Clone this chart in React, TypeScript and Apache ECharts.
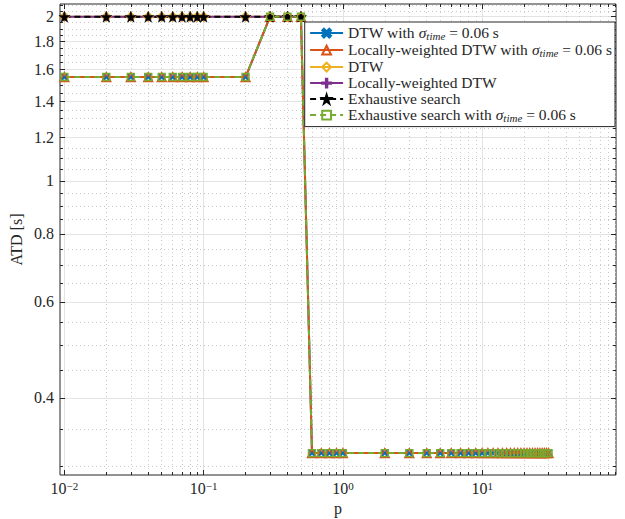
import React, { useEffect, useRef } from "react";
import * as echarts from "echarts";

// ---- data -------------------------------------------------------------
const P_ALL = [
  0.01, 0.02, 0.03, 0.04, 0.05, 0.06, 0.07, 0.08, 0.09, 0.1,
  0.2, 0.3, 0.4, 0.5, 0.6, 0.7, 0.8, 0.9, 1,
  2, 3, 4, 5, 6, 7, 8, 9, 10,
  11, 12, 13, 14, 15, 16, 17, 18, 19, 20,
  21, 22, 23, 24, 25, 26, 27, 28, 29, 30,
];
const P_SHORT = [0.01, 0.02, 0.03, 0.04, 0.05, 0.06, 0.07, 0.08, 0.09, 0.1, 0.2, 0.3, 0.4, 0.5];

const DTW_SIGMA = [
  1.55, 1.55, 1.55, 1.55, 1.55, 1.55, 1.55, 1.55, 1.55, 1.55,
  1.55, 2.0, 2.0, 2.0, 0.317, 0.317, 0.317, 0.317, 0.317,
  0.317, 0.317, 0.317, 0.317, 0.317, 0.317, 0.317, 0.317, 0.317,
  0.317, 0.317, 0.317, 0.317, 0.317, 0.317, 0.317, 0.317, 0.317, 0.317,
  0.317, 0.317, 0.317, 0.317, 0.317, 0.317, 0.317, 0.317, 0.317, 0.317,
];
const LW_DTW_SIGMA = [
  1.55, 1.55, 1.55, 1.55, 1.55, 1.55, 1.55, 1.55, 1.55, 1.55,
  1.55, 2.0, 2.0, 2.0, 0.317, 0.317, 0.317, 0.317, 0.317,
  0.317, 0.317, 0.317, 0.317, 0.317, 0.317, 0.317, 0.317, 0.317,
  0.317, 0.317, 0.317, 0.317, 0.317, 0.317, 0.317, 0.317, 0.317, 0.317,
  0.317, 0.317, 0.317, 0.317, 0.317, 0.317, 0.317, 0.317, 0.317, 0.317,
];
const ES_SIGMA = [
  1.55, 1.55, 1.55, 1.55, 1.55, 1.55, 1.55, 1.55, 1.55, 1.55,
  1.55, 2.0, 2.0, 2.0, 0.317, 0.317, 0.317, 0.317, 0.317,
  0.317, 0.317, 0.317, 0.317, 0.317, 0.317, 0.317, 0.317, 0.317,
  0.317, 0.317, 0.317, 0.317, 0.317, 0.317, 0.317, 0.317, 0.317, 0.317,
  0.317, 0.317, 0.317, 0.317, 0.317, 0.317, 0.317, 0.317, 0.317, 0.317,
];
const DTW = [2.0, 2.0, 2.0, 2.0, 2.0, 2.0, 2.0, 2.0, 2.0, 2.0, 2.0, 2.0, 2.0, 2.0];
const LW_DTW = [2.0, 2.0, 2.0, 2.0, 2.0, 2.0, 2.0, 2.0, 2.0, 2.0, 2.0, 2.0, 2.0, 2.0];
const ES = [2.0, 2.0, 2.0, 2.0, 2.0, 2.0, 2.0, 2.0, 2.0, 2.0, 2.0, 2.0, 2.0, 2.0];

const SERIES_NAMES = [
  "DTW with σtime = 0.06 s",
  "Locally-weighted DTW with σtime = 0.06 s",
  "DTW",
  "Locally-weighted DTW",
  "Exhaustive search",
  "Exhaustive search with σtime = 0.06 s",
];

// axis ranges and ticks
const X_MIN = 0.0093;
const X_MAX = 91.5;
const Y_MIN = 0.289;
const Y_MAX = 2.11;
const X_MAJOR = [0.01, 0.1, 1, 10];
const X_MINOR = [
  0.02, 0.03, 0.04, 0.05, 0.06, 0.07, 0.08, 0.09,
  0.2, 0.3, 0.4, 0.5, 0.6, 0.7, 0.8, 0.9,
  2, 3, 4, 5, 6, 7, 8, 9,
  20, 30, 40, 50, 60, 70, 80, 90,
];
const Y_MAJOR = [0.4, 0.6, 0.8, 1, 1.2, 1.4, 1.6, 1.8, 2];
const Y_MINOR = [
  0.3, 0.35, 0.45, 0.5, 0.55, 0.65, 0.7, 0.75, 0.85, 0.9, 0.95,
  1.05, 1.1, 1.15, 1.25, 1.3, 1.35, 1.45, 1.5, 1.55, 1.65, 1.7, 1.75,
  1.85, 1.9, 1.95, 2.05, 2.1,
];

// ---- styling ------------------------------------------------------------
const FONT = "'Liberation Serif', 'Times New Roman', serif";
const AX = "#262626";
const C_BLUE = "#0072BD";
const C_ORANGE = "#D95319";
const C_YELLOW = "#EDB120";
const C_PURPLE = "#7E2F8E";
const C_BLACK = "#000000";
const C_GREEN = "#77AC30";

const SYM_X = "path://M2,0L5,3L8,0L10,2L7,5L10,8L8,10L5,7L2,10L0,8L3,5L0,2Z";
const SYM_PLUS = "path://M4.2,0H5.8V4.2H10V5.8H5.8V10H4.2V5.8H0V4.2H4.2Z";
const SYM_STAR = "path://M50,0L61,35L98,35L68,57L79,91L50,70L21,91L32,57L2,35L39,35Z";

const lg = (a: number[]) => a.map((v) => Math.log10(v));

function zip(xs: number[], ys: number[]) {
  return xs.map((x, i) => [x, ys[i]]);
}

function overlayAxis(
  dir: "x" | "y",
  position: string,
  values: number[],
  tickLen: number,
  split: "solid" | "dotted" | null,
  labels: boolean
) {
  const lv = lg(values);
  const min = dir === "x" ? Math.log10(X_MIN) : Math.log10(Y_MIN);
  const max = dir === "x" ? Math.log10(X_MAX) : Math.log10(Y_MAX);
  return {
    type: "value",
    position,
    min,
    max,
    offset: 0,
    axisLine: { show: false, onZero: false },
    axisTick: {
      show: true,
      inside: true,
      length: tickLen,
      customValues: lv,
      lineStyle: { color: AX, width: 1 },
    },
    axisLabel: labels
      ? {
          show: true,
          customValues: lv,
          margin: dir === "x" ? 5 : 6,
          fontFamily: FONT,
          color: AX,
          fontSize: 16,
          formatter:
            dir === "x"
              ? (v: number) => {
                  const n = Math.round(v);
                  return `{b|10}{u|${n < 0 ? "\u2212" + Math.abs(n) : n}}`;
                }
              : (v: number) => String(Math.round(Math.pow(10, v) * 10) / 10),
          rich:
            dir === "x"
              ? {
                  b: { fontFamily: FONT, fontSize: 16, color: AX, lineHeight: 16, verticalAlign: "bottom" },
                  u: { fontFamily: FONT, fontSize: 11, color: AX, lineHeight: 9, verticalAlign: "top" },
                }
              : undefined,
        }
      : { show: false },
    splitLine: split
      ? {
          show: true,
          lineStyle:
            split === "solid"
              ? { color: "#e3e3e3", width: 1, type: "solid" }
              : { color: "#c9c9c9", width: 1, type: [1, 3] },
        }
      : { show: false },
  };
}

function legendFormatter(name: string) {
  if (name.indexOf("σtime") >= 0) {
    const [a, b] = name.split("σtime");
    return `{t|${a}}{i|σ}{s|time}{t|${b}}`;
  }
  return `{t|${name}}`;
}

export default function App() {
  const ref = useRef<HTMLDivElement>(null);

  useEffect(() => {
    if (!ref.current) return;
    const chart = echarts.init(ref.current, null, { renderer: "svg" });

    const mk = (
      name: string,
      xs: number[],
      ys: number[],
      color: string,
      symbol: string,
      size: number,
      filled: boolean,
      dashed: boolean
    ) => ({
      name,
      type: "line",
      xAxisIndex: 0,
      yAxisIndex: 0,
      data: zip(xs, ys),
      symbol,
      symbolSize: size,
      showSymbol: true,
      showAllSymbol: true,
      lineStyle: { color, width: 2, type: dashed ? [6, 4] : "solid" },
      itemStyle: {
        color: filled ? color : "none",
        borderColor: color,
        borderWidth: filled ? 0.5 : 1.4,
      },
      emphasis: { disabled: true },
    });

    const option: any = {
      animation: false,
      backgroundColor: "#ffffff",
      grid: {
        left: 60,
        right: 9,
        top: 4,
        bottom: 44,
        show: true,
        borderColor: AX,
        borderWidth: 1,
        backgroundColor: "#ffffff",
        outerBoundsMode: "none",
      },
      legend: {
        show: true,
        orient: "vertical",
        right: 10,
        top: 22,
        padding: [2.6, 3, 3, 4.4],
        itemWidth: 33,
        itemHeight: 11,
        itemGap: 0,
        selectedMode: false,
        backgroundColor: "#ffffff",
        borderColor: AX,
        borderWidth: 1,
        formatter: legendFormatter,
        textStyle: {
          fontFamily: FONT,
          fontSize: 15.5,
          color: AX,
          rich: {
            t: { fontFamily: FONT, fontSize: 15.5, color: AX, lineHeight: 17, verticalAlign: "top" },
            i: { fontFamily: FONT, fontSize: 15.5, color: AX, lineHeight: 17, verticalAlign: "top", fontStyle: "italic" },
            s: { fontFamily: FONT, fontSize: 11, color: AX, lineHeight: 9, verticalAlign: "bottom", fontStyle: "italic" },
          },
        },
        data: SERIES_NAMES,
      },
      xAxis: [
        {
          type: "log",
          logBase: 10,
          min: X_MIN,
          max: X_MAX,
          position: "bottom",
          axisLine: { show: false, onZero: false },
          axisTick: { show: false },
          axisLabel: { show: false },
          splitLine: { show: false },
          minorTick: { show: false },
          name: "p",
          nameLocation: "middle",
          nameGap: 25,
          nameMoveOverlap: false,
          nameTextStyle: { fontFamily: FONT, fontSize: 16, color: AX, lineHeight: 16 },
        },
        overlayAxis("x", "bottom", X_MAJOR, 5, "solid", true),
        overlayAxis("x", "bottom", X_MINOR, 3, "dotted", false),
        overlayAxis("x", "top", X_MAJOR, 5, null, false),
        overlayAxis("x", "top", X_MINOR, 3, null, false),
      ],
      yAxis: [
        {
          type: "log",
          logBase: 10,
          min: Y_MIN,
          max: Y_MAX,
          position: "left",
          axisLine: { show: false, onZero: false },
          axisTick: { show: false },
          axisLabel: { show: false },
          splitLine: { show: false },
          minorTick: { show: false },
          name: "ATD [s]",
          nameLocation: "middle",
          nameGap: 36,
          nameMoveOverlap: false,
          nameTextStyle: { fontFamily: FONT, fontSize: 16, color: AX },
        },
        overlayAxis("y", "left", Y_MAJOR, 5, "solid", true),
        overlayAxis("y", "left", Y_MINOR, 3, "dotted", false),
        overlayAxis("y", "right", Y_MAJOR, 5, null, false),
        overlayAxis("y", "right", Y_MINOR, 3, null, false),
      ],
      series: [
        mk(SERIES_NAMES[0], P_ALL, DTW_SIGMA, C_BLUE, SYM_X, 7, true, false),
        mk(SERIES_NAMES[1], P_ALL, LW_DTW_SIGMA, C_ORANGE, "triangle", 9, false, false),
        mk(SERIES_NAMES[2], P_SHORT, DTW, C_YELLOW, "diamond", 9, false, false),
        mk(SERIES_NAMES[3], P_SHORT, LW_DTW, C_PURPLE, SYM_PLUS, 8, true, false),
        mk(SERIES_NAMES[4], P_SHORT, ES, C_BLACK, SYM_STAR, 11, true, true),
        mk(SERIES_NAMES[5], P_ALL, ES_SIGMA, C_GREEN, "rect", 7, false, true),
      ],
    };

    chart.setOption(option);
    return () => chart.dispose();
  }, []);

  return (
    <div
      ref={ref}
      style={{ position: "fixed", left: 0, top: 0, width: 625, height: 519, background: "#fff" }}
    />
  );
}
